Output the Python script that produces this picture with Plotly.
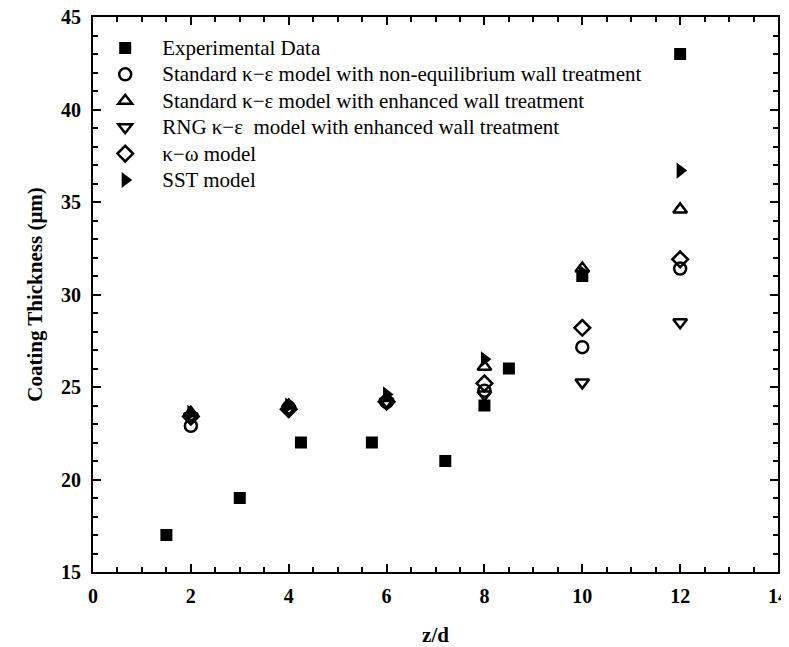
import plotly.graph_objects as go

# Experimental data
exp_x = [1.5, 3, 4.25, 5.7, 7.2, 8, 8.5, 10, 12]
exp_y = [17, 19, 22, 22, 21, 24, 26, 31, 43]

# Model predictions
model_x = [2, 4, 6, 8, 10, 12]
std_noneq = [22.9, 23.9, 24.2, 24.8, 27.15, 31.4]
std_enh = [23.6, 24.0, 24.4, 26.1, 31.4, 34.6]
rng_enh = [23.4, 23.8, 24.2, 24.6, 25.25, 28.5]
kw_model = [23.4, 23.8, 24.2, 25.2, 28.2, 31.9]
sst_model = [23.6, 24.0, 24.6, 26.5, 31.2, 36.7]

names = [
    "Experimental Data",
    "Standard \u03ba\u2212\u03b5 model with non-equilibrium wall treatment",
    "Standard \u03ba\u2212\u03b5 model with enhanced wall treatment",
    "RNG \u03ba\u2212\u03b5  model with enhanced wall treatment",
    "\u03ba\u2212\u03c9 model",
    "SST model",
]


def big(t):
    return '<span style="font-size:21px">' + t + "</span>"


fig = go.Figure()
fig.add_trace(go.Scatter(x=exp_x, y=exp_y, mode="markers", name=big(names[0]),
                         marker=dict(symbol="square", size=12, color="black")))
series = [
    (std_noneq, "circle-open", names[1]),
    (std_enh, "triangle-up-open", names[2]),
    (rng_enh, "triangle-down-open", names[3]),
    (kw_model, "diamond-open", names[4]),
]
for ys, sym, nm in series:
    fig.add_trace(go.Scatter(x=model_x, y=ys, mode="markers", name=big(nm),
                             marker=dict(symbol=sym, size=12, color="black",
                                         line=dict(width=2.5, color="black"))))
fig.add_trace(go.Scatter(x=model_x, y=sst_model, mode="markers", name=big(names[5]),
                         marker=dict(symbol="triangle-right", size=14, color="black")))

axis_common = dict(
    showline=True, linewidth=2, linecolor="black", mirror="allticks",
    ticks="inside", ticklen=8, tickwidth=2, tickcolor="black",
    showgrid=False, zeroline=False, automargin=False, ticklabeloverflow="allow",
    tickfont=dict(family="Liberation Serif", size=20, color="black", weight="bold"),
)
fig.update_xaxes(range=[0, 14], dtick=2, tick0=0, ticklabelstandoff=5,
                 minor=dict(dtick=0.5, ticks="inside", ticklen=5, tickwidth=1.5, tickcolor="black"),
                 title=dict(text="<b>z/d</b>", font=dict(family="Liberation Serif", size=21, color="black"),
                            standoff=21),
                 **axis_common)
fig.update_yaxes(range=[15, 45], dtick=5, tick0=15, ticklabelstandoff=6,
                 minor=dict(dtick=1, ticks="inside", ticklen=5, tickwidth=1.5, tickcolor="black"),
                 title=dict(text="<b>Coating Thickness (\u03bcm)</b>",
                            font=dict(family="Liberation Serif", size=21, color="black"), standoff=13),
                 **axis_common)

fig.update_layout(
    width=789, height=647,
    margin=dict(l=85, r=19, t=9, b=83),
    plot_bgcolor="white", paper_bgcolor="white",
    legend=dict(x=-0.007, y=0.977, xanchor="left", yanchor="top", itemwidth=64,
                font=dict(family="Liberation Serif", size=18, color="black"),
                bgcolor="rgba(0,0,0,0)", traceorder="normal"),
)

fig.write_html("out.html")
